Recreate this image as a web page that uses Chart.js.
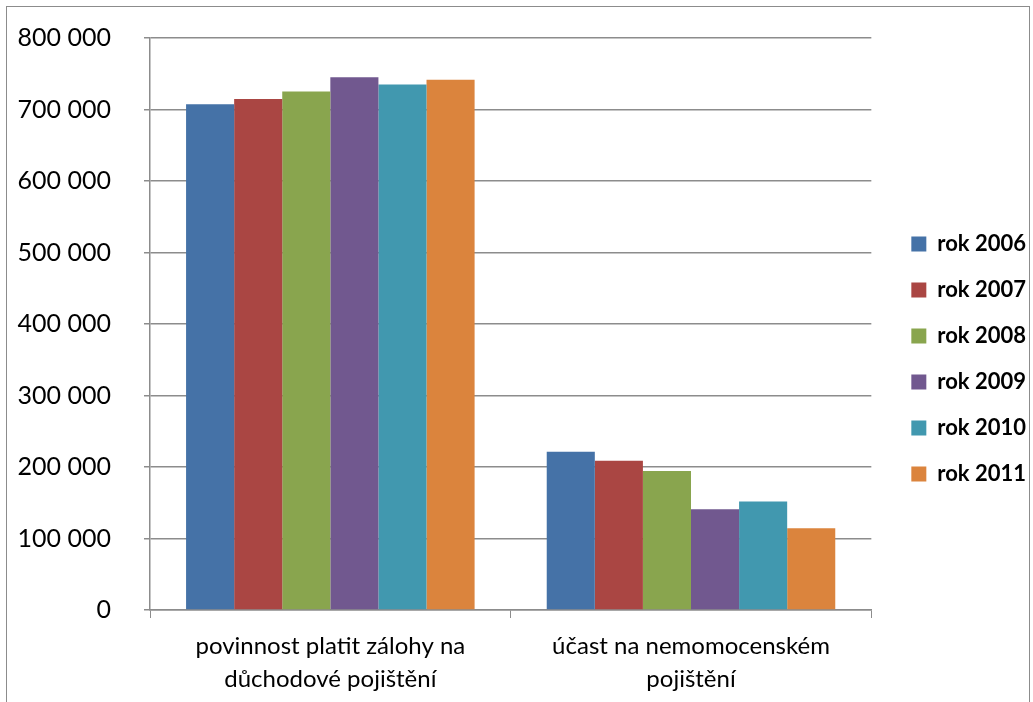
<!DOCTYPE html>
<html>
<head>
<meta charset="utf-8">
<script src="https://cdn.jsdelivr.net/npm/chart.js@4/dist/chart.umd.min.js"></script>
<style>
  body { margin: 0; background: #fff; }
  #frame { position: absolute; left: 6px; top: 6px; width: 1022px; height: 710px; border: 1px solid #8c8c8c; }
  #c { position: absolute; left: 0; top: 0; }
</style>
</head>
<body>
<div id="frame"></div>
<canvas id="c" width="1033" height="702"></canvas>
<script>
var categories = [
    ['povinnost platit zálohy na', 'důchodové pojištění'],
    ['účast na nemomocenském', 'pojištění']
];
var years = ['rok 2006', 'rok 2007', 'rok 2008', 'rok 2009', 'rok 2010', 'rok 2011'];
var rok2006 = [707400, 221300];
var rok2007 = [714800, 208800];
var rok2008 = [725200, 194400];
var rok2009 = [745200, 141000];
var rok2010 = [735000, 151600];
var rok2011 = [741500, 114500];
var colors = ['#4572A7', '#AA4643', '#89A54E', '#71588F', '#4198AF', '#DB843D'];

var series = [rok2006, rok2007, rok2008, rok2009, rok2010, rok2011];
var datasets = [];
for (var k = 0; k < series.length; k++) {
    datasets.push({
        label: years[k],
        data: series[k],
        backgroundColor: colors[k],
        borderWidth: 0,
        categoryPercentage: 0.8,
        barPercentage: 1.0
    });
}

function fmt(v) {
    return String(v).replace(/\B(?=(\d{3})+(?!\d))/g, ' ');
}

// nudge the legend away from where the layout puts it
var legendShiftX = 16;
var legendShiftY = -11;
var shiftLegend = {
    id: 'shiftLegend',
    afterLayout: function (c) {
        c.legend.left += legendShiftX;
        c.legend.right += legendShiftX;
        c.legend.top += legendShiftY;
        c.legend.bottom += legendShiftY;
    }
};

var ctx = document.getElementById('c').getContext('2d');
var chart = new Chart(ctx, {
    type: 'bar',
    data: { labels: categories, datasets: datasets },
    plugins: [shiftLegend],
    options: {
        responsive: false,
        animation: false,
        layout: { padding: { left: 14, top: 38, right: 13, bottom: 0 } },
        plugins: {
            tooltip: { enabled: false },
            legend: {
                position: 'right',
                labels: {
                    boxWidth: 15,
                    boxHeight: 15,
                    padding: 24,
                    color: '#000',
                    font: { family: 'Lato', size: 22, weight: 'bold' }
                }
            }
        },
        scales: {
            x: {
                afterFit: function (s) { s.height = 92; },
                grid: {
                    offset: true,
                    drawOnChartArea: false,
                    color: '#8c8c8c',
                    tickLength: 8
                },
                border: { color: '#8c8c8c', width: 1.5 },
                ticks: {
                    color: '#000',
                    padding: 12,
                    font: { family: 'Lato', size: 24, lineHeight: 1.375 }
                }
            },
            y: {
                afterFit: function (s) {
                    s.width = 136;
                    s.paddingTop = 0;
                    s.paddingBottom = 0;
                },
                min: 0,
                max: 800000,
                ticks: {
                    stepSize: 100000,
                    color: '#000',
                    padding: 33,
                    font: { family: 'Lato', size: 25 },
                    callback: function (v) { return fmt(v); }
                },
                grid: { color: '#8c8c8c', lineWidth: 1.5, tickLength: 6 },
                border: { color: '#8c8c8c', width: 1.5 }
            }
        }
    }
});
</script>
</body>
</html>
